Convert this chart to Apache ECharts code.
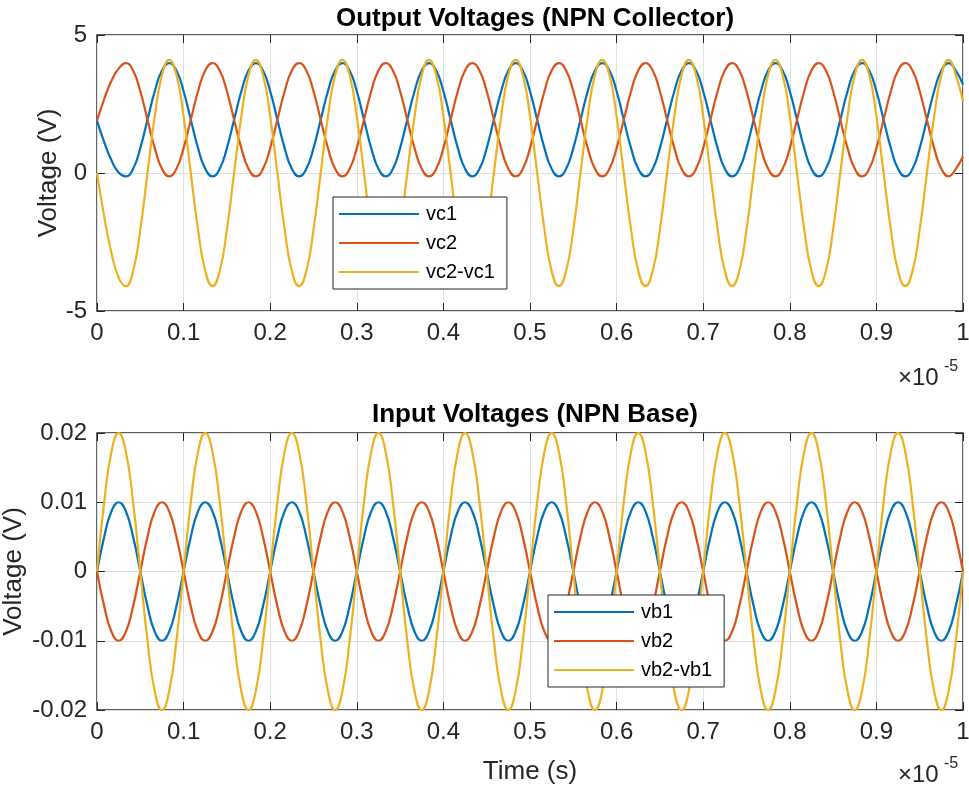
<!DOCTYPE html>
<html>
<head>
<meta charset="utf-8">
<script src="https://cdn.jsdelivr.net/npm/echarts@6/dist/echarts.min.js"></script>
<style>
  html, body { margin: 0; padding: 0; background: #fff; }
  #chart { width: 969px; height: 787px; }
</style>
</head>
<body>
<div id="chart"></div>
<script>
// time axis, in units of 1e-5 s (12 samples per period)
var time = [
  0, 0.0083, 0.0167, 0.025, 0.0333, 0.0417, 0.05, 0.0583, 0.0667, 0.075, 0.0833, 0.0917,
  0.1, 0.1083, 0.1167, 0.125, 0.1333, 0.1417, 0.15, 0.1583, 0.1667, 0.175, 0.1833, 0.1917,
  0.2, 0.2083, 0.2167, 0.225, 0.2333, 0.2417, 0.25, 0.2583, 0.2667, 0.275, 0.2833, 0.2917,
  0.3, 0.3083, 0.3167, 0.325, 0.3333, 0.3417, 0.35, 0.3583, 0.3667, 0.375, 0.3833, 0.3917,
  0.4, 0.4083, 0.4167, 0.425, 0.4333, 0.4417, 0.45, 0.4583, 0.4667, 0.475, 0.4833, 0.4917,
  0.5, 0.5083, 0.5167, 0.525, 0.5333, 0.5417, 0.55, 0.5583, 0.5667, 0.575, 0.5833, 0.5917,
  0.6, 0.6083, 0.6167, 0.625, 0.6333, 0.6417, 0.65, 0.6583, 0.6667, 0.675, 0.6833, 0.6917,
  0.7, 0.7083, 0.7167, 0.725, 0.7333, 0.7417, 0.75, 0.7583, 0.7667, 0.775, 0.7833, 0.7917,
  0.8, 0.8083, 0.8167, 0.825, 0.8333, 0.8417, 0.85, 0.8583, 0.8667, 0.875, 0.8833, 0.8917,
  0.9, 0.9083, 0.9167, 0.925, 0.9333, 0.9417, 0.95, 0.9583, 0.9667, 0.975, 0.9833, 0.9917,
  1
];

// output voltages (collector)
var vc1 = [
  1.9, 1.12, 0.46, 0.02, -0.12, 0.15, 0.90, 1.93, 2.96, 3.71, 3.98, 3.71,
  2.96, 1.93, 0.90, 0.15, -0.12, 0.15, 0.90, 1.93, 2.96, 3.71, 3.98, 3.71,
  2.96, 1.93, 0.90, 0.15, -0.12, 0.15, 0.90, 1.93, 2.96, 3.71, 3.98, 3.71,
  2.96, 1.93, 0.90, 0.15, -0.12, 0.15, 0.90, 1.93, 2.96, 3.71, 3.98, 3.71,
  2.96, 1.93, 0.90, 0.15, -0.12, 0.15, 0.90, 1.93, 2.96, 3.71, 3.98, 3.71,
  2.96, 1.93, 0.90, 0.15, -0.12, 0.15, 0.90, 1.93, 2.96, 3.71, 3.98, 3.71,
  2.96, 1.93, 0.90, 0.15, -0.12, 0.15, 0.90, 1.93, 2.96, 3.71, 3.98, 3.71,
  2.96, 1.93, 0.90, 0.15, -0.12, 0.15, 0.90, 1.93, 2.96, 3.71, 3.98, 3.71,
  2.96, 1.93, 0.90, 0.15, -0.12, 0.15, 0.90, 1.93, 2.96, 3.71, 3.98, 3.71,
  2.96, 1.93, 0.90, 0.15, -0.12, 0.15, 0.90, 1.93, 2.96, 3.71, 3.98, 3.71,
  3.2
];
var vc2 = [
  1.9, 2.68, 3.34, 3.78, 3.98, 3.71, 2.96, 1.93, 0.90, 0.15, -0.12, 0.15,
  0.90, 1.93, 2.96, 3.71, 3.98, 3.71, 2.96, 1.93, 0.90, 0.15, -0.12, 0.15,
  0.90, 1.93, 2.96, 3.71, 3.98, 3.71, 2.96, 1.93, 0.90, 0.15, -0.12, 0.15,
  0.90, 1.93, 2.96, 3.71, 3.98, 3.71, 2.96, 1.93, 0.90, 0.15, -0.12, 0.15,
  0.90, 1.93, 2.96, 3.71, 3.98, 3.71, 2.96, 1.93, 0.90, 0.15, -0.12, 0.15,
  0.90, 1.93, 2.96, 3.71, 3.98, 3.71, 2.96, 1.93, 0.90, 0.15, -0.12, 0.15,
  0.90, 1.93, 2.96, 3.71, 3.98, 3.71, 2.96, 1.93, 0.90, 0.15, -0.12, 0.15,
  0.90, 1.93, 2.96, 3.71, 3.98, 3.71, 2.96, 1.93, 0.90, 0.15, -0.12, 0.15,
  0.90, 1.93, 2.96, 3.71, 3.98, 3.71, 2.96, 1.93, 0.90, 0.15, -0.12, 0.15,
  0.90, 1.93, 2.96, 3.71, 3.98, 3.71, 2.96, 1.93, 0.90, 0.15, -0.12, 0.15,
  0.6
];
var vcDiff = [
  0, -1.57, -2.9, -3.79, -4.1, -3.55, -2.05, 0, 2.05, 3.55, 4.1, 3.55,
  2.05, 0, -2.05, -3.55, -4.1, -3.55, -2.05, 0, 2.05, 3.55, 4.1, 3.55,
  2.05, 0, -2.05, -3.55, -4.1, -3.55, -2.05, 0, 2.05, 3.55, 4.1, 3.55,
  2.05, 0, -2.05, -3.55, -4.1, -3.55, -2.05, 0, 2.05, 3.55, 4.1, 3.55,
  2.05, 0, -2.05, -3.55, -4.1, -3.55, -2.05, 0, 2.05, 3.55, 4.1, 3.55,
  2.05, 0, -2.05, -3.55, -4.1, -3.55, -2.05, 0, 2.05, 3.55, 4.1, 3.55,
  2.05, 0, -2.05, -3.55, -4.1, -3.55, -2.05, 0, 2.05, 3.55, 4.1, 3.55,
  2.05, 0, -2.05, -3.55, -4.1, -3.55, -2.05, 0, 2.05, 3.55, 4.1, 3.55,
  2.05, 0, -2.05, -3.55, -4.1, -3.55, -2.05, 0, 2.05, 3.55, 4.1, 3.55,
  2.05, 0, -2.05, -3.55, -4.1, -3.55, -2.05, 0, 2.05, 3.55, 4.1, 3.55,
  2.6
];

// input voltages (base)
var vb1 = [
  0, 0.005, 0.0087, 0.01, 0.0087, 0.005, 0, -0.005, -0.0087, -0.01, -0.0087, -0.005,
  0, 0.005, 0.0087, 0.01, 0.0087, 0.005, 0, -0.005, -0.0087, -0.01, -0.0087, -0.005,
  0, 0.005, 0.0087, 0.01, 0.0087, 0.005, 0, -0.005, -0.0087, -0.01, -0.0087, -0.005,
  0, 0.005, 0.0087, 0.01, 0.0087, 0.005, 0, -0.005, -0.0087, -0.01, -0.0087, -0.005,
  0, 0.005, 0.0087, 0.01, 0.0087, 0.005, 0, -0.005, -0.0087, -0.01, -0.0087, -0.005,
  0, 0.005, 0.0087, 0.01, 0.0087, 0.005, 0, -0.005, -0.0087, -0.01, -0.0087, -0.005,
  0, 0.005, 0.0087, 0.01, 0.0087, 0.005, 0, -0.005, -0.0087, -0.01, -0.0087, -0.005,
  0, 0.005, 0.0087, 0.01, 0.0087, 0.005, 0, -0.005, -0.0087, -0.01, -0.0087, -0.005,
  0, 0.005, 0.0087, 0.01, 0.0087, 0.005, 0, -0.005, -0.0087, -0.01, -0.0087, -0.005,
  0, 0.005, 0.0087, 0.01, 0.0087, 0.005, 0, -0.005, -0.0087, -0.01, -0.0087, -0.005,
  0
];
var vb2 = [
  0, -0.005, -0.0087, -0.01, -0.0087, -0.005, 0, 0.005, 0.0087, 0.01, 0.0087, 0.005,
  0, -0.005, -0.0087, -0.01, -0.0087, -0.005, 0, 0.005, 0.0087, 0.01, 0.0087, 0.005,
  0, -0.005, -0.0087, -0.01, -0.0087, -0.005, 0, 0.005, 0.0087, 0.01, 0.0087, 0.005,
  0, -0.005, -0.0087, -0.01, -0.0087, -0.005, 0, 0.005, 0.0087, 0.01, 0.0087, 0.005,
  0, -0.005, -0.0087, -0.01, -0.0087, -0.005, 0, 0.005, 0.0087, 0.01, 0.0087, 0.005,
  0, -0.005, -0.0087, -0.01, -0.0087, -0.005, 0, 0.005, 0.0087, 0.01, 0.0087, 0.005,
  0, -0.005, -0.0087, -0.01, -0.0087, -0.005, 0, 0.005, 0.0087, 0.01, 0.0087, 0.005,
  0, -0.005, -0.0087, -0.01, -0.0087, -0.005, 0, 0.005, 0.0087, 0.01, 0.0087, 0.005,
  0, -0.005, -0.0087, -0.01, -0.0087, -0.005, 0, 0.005, 0.0087, 0.01, 0.0087, 0.005,
  0, -0.005, -0.0087, -0.01, -0.0087, -0.005, 0, 0.005, 0.0087, 0.01, 0.0087, 0.005,
  0
];
var vbDiff = [
  0, 0.01, 0.0173, 0.02, 0.0173, 0.01, 0, -0.01, -0.0173, -0.02, -0.0173, -0.01,
  0, 0.01, 0.0173, 0.02, 0.0173, 0.01, 0, -0.01, -0.0173, -0.02, -0.0173, -0.01,
  0, 0.01, 0.0173, 0.02, 0.0173, 0.01, 0, -0.01, -0.0173, -0.02, -0.0173, -0.01,
  0, 0.01, 0.0173, 0.02, 0.0173, 0.01, 0, -0.01, -0.0173, -0.02, -0.0173, -0.01,
  0, 0.01, 0.0173, 0.02, 0.0173, 0.01, 0, -0.01, -0.0173, -0.02, -0.0173, -0.01,
  0, 0.01, 0.0173, 0.02, 0.0173, 0.01, 0, -0.01, -0.0173, -0.02, -0.0173, -0.01,
  0, 0.01, 0.0173, 0.02, 0.0173, 0.01, 0, -0.01, -0.0173, -0.02, -0.0173, -0.01,
  0, 0.01, 0.0173, 0.02, 0.0173, 0.01, 0, -0.01, -0.0173, -0.02, -0.0173, -0.01,
  0, 0.01, 0.0173, 0.02, 0.0173, 0.01, 0, -0.01, -0.0173, -0.02, -0.0173, -0.01,
  0, 0.01, 0.0173, 0.02, 0.0173, 0.01, 0, -0.01, -0.0173, -0.02, -0.0173, -0.01,
  0
];

var topNames = ['vc1', 'vc2', 'vc2-vc1'];
var bottomNames = ['vb1', 'vb2', 'vb2-vb1'];
var topTicks = [-5, 0, 5];
var bottomTicks = [-0.02, -0.01, 0, 0.01, 0.02];
var titles = ['Output Voltages (NPN Collector)', 'Input Voltages (NPN Base)'];

var colors = ['#0072BD', '#D95319', '#EDB120'];
var font = 'Liberation Sans, Arial, Helvetica, sans-serif';
var ink = '#262626';

function pairs(ys) {
  var out = [];
  for (var i = 0; i < time.length; i++) out.push([time[i], ys[i]]);
  return out;
}

// x axes: index 0/2 real, 1/3 only for top ticks (box style)
function xAxisFor(grid, isTop, showName) {
  return {
    type: 'value', gridIndex: grid, position: isTop ? 'top' : 'bottom',
    min: 0, max: 1, interval: 0.1,
    axisLine: { show: false, onZero: false },
    axisTick: { show: true, inside: true, length: 8, lineStyle: { color: ink, width: 1 } },
    axisLabel: { show: !isTop, margin: 10, color: ink, fontSize: 24, fontFamily: font },
    splitLine: { show: !isTop, lineStyle: { color: '#dfdfdf', width: 1 } },
    name: showName ? 'Time (s)' : '',
    nameLocation: 'middle', nameGap: 49, nameMoveOverlap: false,
    nameTextStyle: { color: ink, fontSize: 26, fontFamily: font }
  };
}

function yAxisFor(grid, isRight, ticks, gap) {
  return {
    type: 'value', gridIndex: grid, position: isRight ? 'right' : 'left',
    min: ticks[0], max: ticks[ticks.length - 1], interval: ticks[1] - ticks[0],
    axisLine: { show: false, onZero: false },
    axisTick: { show: true, inside: true, length: 8, lineStyle: { color: ink, width: 1 } },
    axisLabel: { show: !isRight, margin: 10, color: ink, fontSize: 24, fontFamily: font },
    splitLine: { show: !isRight, lineStyle: { color: '#dfdfdf', width: 1 } },
    name: isRight ? '' : 'Voltage (V)',
    nameLocation: 'middle', nameGap: gap, nameMoveOverlap: false,
    nameTextStyle: { color: ink, fontSize: 26, fontFamily: font }
  };
}

function lineSeries(name, ys, idx, axis) {
  return {
    name: name, type: 'line', data: pairs(ys),
    xAxisIndex: axis, yAxisIndex: axis,
    smooth: true, showSymbol: false, symbol: 'none',
    lineStyle: { color: colors[idx], width: 2.2 },
    itemStyle: { color: colors[idx] },
    emphasis: { disabled: true }
  };
}

function legendFor(names, left, top) {
  return {
    data: names, orient: 'vertical', left: left, top: top,
    icon: 'rect', itemWidth: 80, itemHeight: 2, itemGap: 9,
    padding: [7, 12, 7, 6],
    backgroundColor: '#fff', borderColor: ink, borderWidth: 1, borderRadius: 0,
    textStyle: { color: '#000', fontSize: 20, fontFamily: font, padding: [0, 0, 0, 2] },
    selectedMode: false
  };
}

var myChart = echarts.init(document.getElementById('chart'), null, { renderer: 'canvas' });

var option = {
  animation: false,
  backgroundColor: '#fff',
  title: [
    { text: titles[0], left: 530, top: 1, textAlign: 'center',
      textStyle: { color: '#000', fontSize: 26, fontWeight: 'bold', fontFamily: font } },
    { text: titles[1], left: 530, top: 397, textAlign: 'center',
      textStyle: { color: '#000', fontSize: 26, fontWeight: 'bold', fontFamily: font } }
  ],
  legend: [legendFor(topNames, 333, 197), legendFor(bottomNames, 548, 595)],
  grid: [
    { left: 97, right: 6, top: 35, height: 276, show: true, borderColor: ink, borderWidth: 1.4,
      backgroundColor: 'transparent', outerBoundsMode: 'none' },
    { left: 97, right: 6, top: 433, height: 277, show: true, borderColor: ink, borderWidth: 1.4,
      backgroundColor: 'transparent', outerBoundsMode: 'none' }
  ],
  xAxis: [xAxisFor(0, false, false), xAxisFor(0, true, false), xAxisFor(1, false, true), xAxisFor(1, true, false)],
  yAxis: [yAxisFor(0, false, topTicks, 35), yAxisFor(0, true, topTicks, 0), yAxisFor(1, false, bottomTicks, 70), yAxisFor(1, true, bottomTicks, 0)],
  series: [
    lineSeries(topNames[0], vc1, 0, 0),
    lineSeries(topNames[1], vc2, 1, 0),
    lineSeries(topNames[2], vcDiff, 2, 0),
    lineSeries(bottomNames[0], vb1, 0, 2),
    lineSeries(bottomNames[1], vb2, 1, 2),
    lineSeries(bottomNames[2], vbDiff, 2, 2)
  ],
  graphic: [
    // exponent labels, MATLAB style
    { type: 'text', left: 898, top: 366, style: { text: '\u00d710', fill: ink, font: '24px ' + font } },
    { type: 'text', left: 944, top: 359, style: { text: '-5', fill: ink, font: '16px ' + font } },
    { type: 'text', left: 898, top: 763, style: { text: '\u00d710', fill: ink, font: '24px ' + font } },
    { type: 'text', left: 944, top: 756, style: { text: '-5', fill: ink, font: '16px ' + font } }
  ]
};

myChart.setOption(option);
</script>
</body>
</html>
